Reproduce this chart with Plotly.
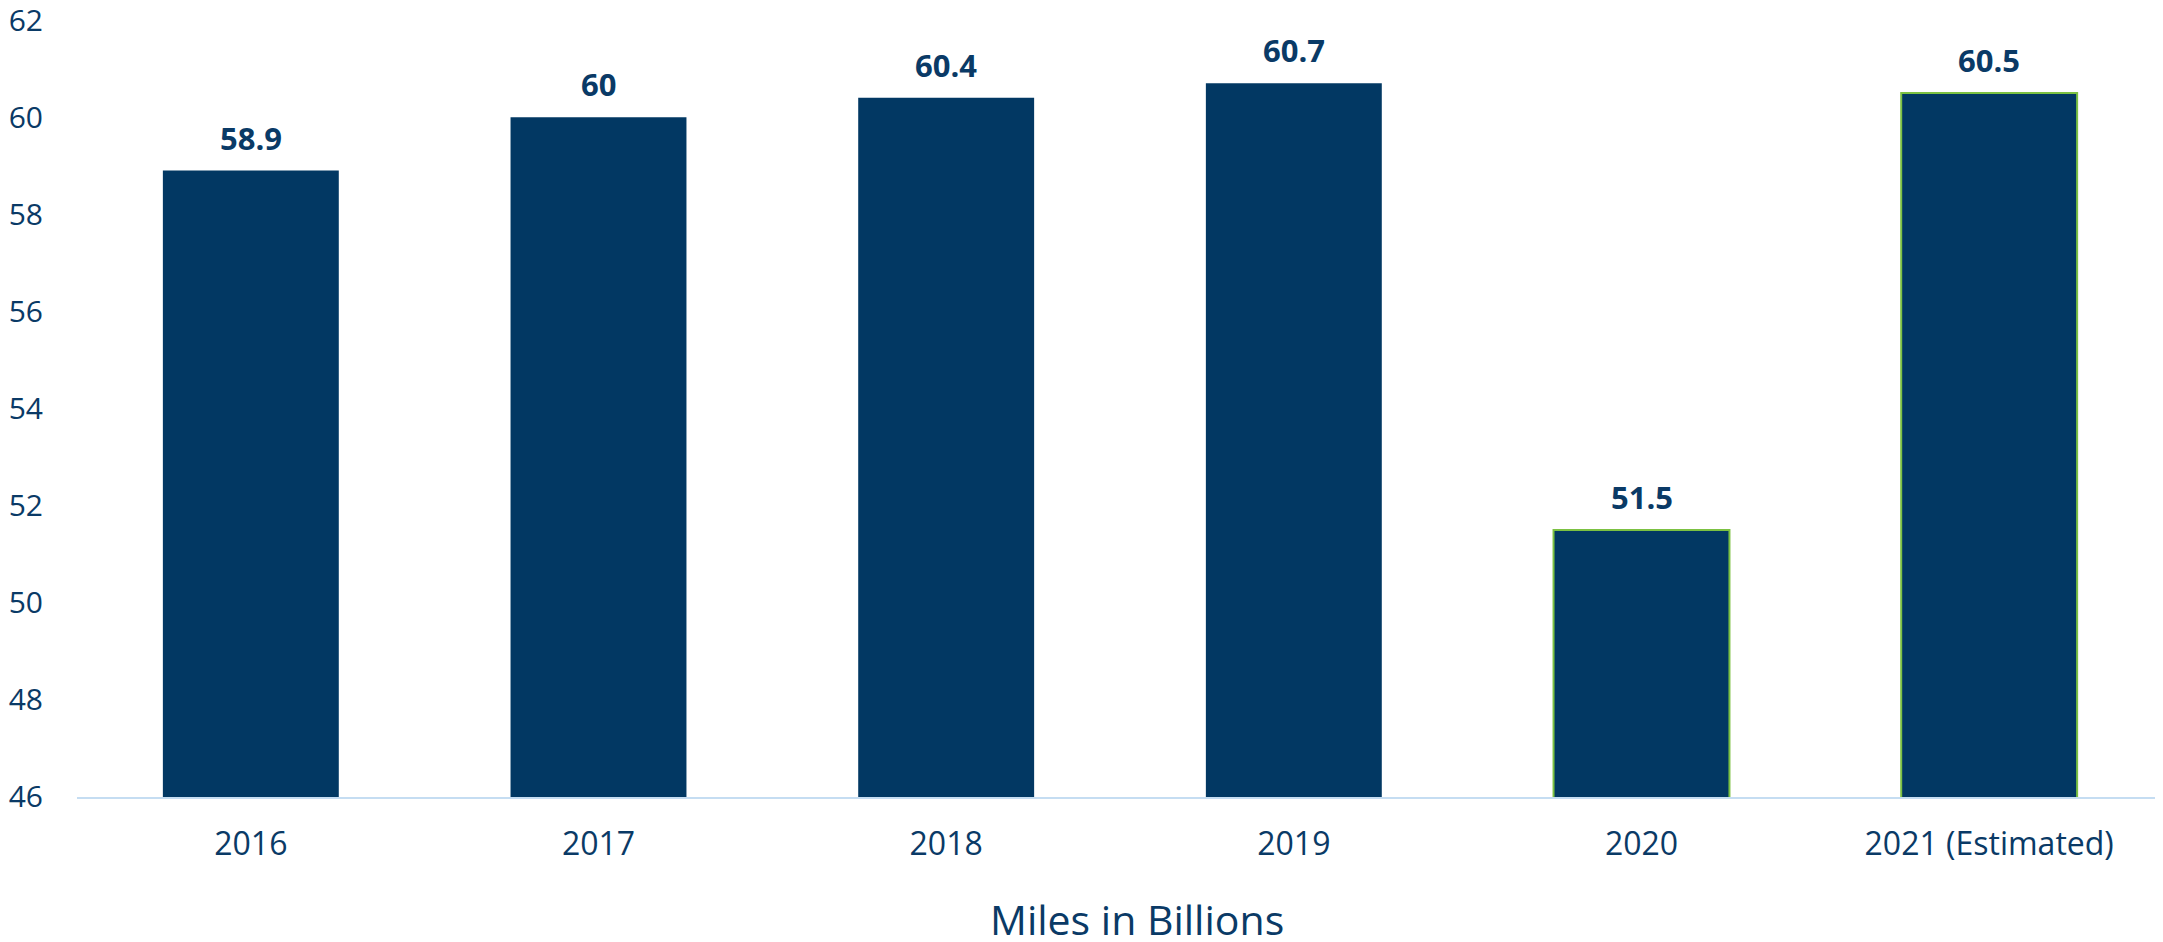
import plotly.graph_objects as go

categories = ["2016", "2017", "2018", "2019", "2020", "2021 (Estimated)"]
values = [58.9, 60, 60.4, 60.7, 51.5, 60.5]
labels = ["58.9", "60", "60.4", "60.7", "51.5", "60.5"]
outline_colors = ["rgba(0,0,0,0)", "rgba(0,0,0,0)", "rgba(0,0,0,0)", "rgba(0,0,0,0)", "#7CC142", "#7CC142"]
y_ticks = [46, 48, 50, 52, 54, 56, 58, 60, 62]

NAVY = "#023863"
TEXT = "#0A3A66"
FONT = "Open Sans"

fig = go.Figure()
fig.add_trace(go.Bar(
    x=categories,
    y=values,
    marker=dict(color=NAVY, line=dict(color=outline_colors, width=2)),
    hoverinfo="skip",
))

for i, (v, t) in enumerate(zip(values, labels)):
    fig.add_annotation(
        x=i, y=v, text="<b>%s</b>" % t, showarrow=False,
        yanchor="bottom", yshift=10,
        font=dict(family=FONT, size=31, color=TEXT),
    )

fig.add_annotation(
    xref="paper", yref="paper", x=0.508, y=0,
    text="Miles in Billions", showarrow=False,
    xanchor="center", yanchor="top", yshift=-92,
    font=dict(family=FONT, size=41, color=TEXT),
)

fig.update_layout(
    width=2155, height=934,
    margin=dict(l=69, r=0, t=12, b=145),
    paper_bgcolor="white", plot_bgcolor="white",
    bargap=0.494,
    showlegend=False,
    font=dict(family=FONT, color=TEXT),
)
fig.update_xaxes(
    type="category", range=[-0.5, len(categories) - 0.5], automargin=False,
    showgrid=False, showline=True, linecolor="#C5DDF2", linewidth=2,
    ticks="", tickfont=dict(family=FONT, size=32, color=TEXT),
    ticklabelstandoff=18,
)
fig.update_yaxes(
    range=[45.999, 62.001], tickvals=y_ticks, automargin=False,
    showgrid=False, zeroline=False,
    showline=False, ticks="", ticklabeloverflow="allow",
    tickfont=dict(family=FONT, size=30, color=TEXT),
    ticklabelstandoff=33,
)

fig.write_html("out.html")
